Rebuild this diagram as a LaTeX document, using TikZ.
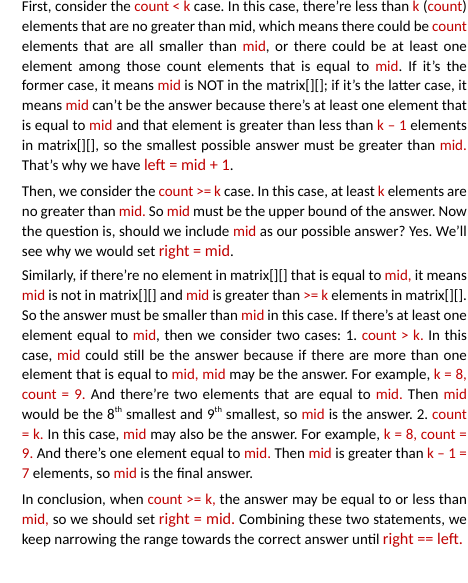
\documentclass[tikz,border=0pt]{standalone}
\usepackage{fontspec}
\setmainfont{Carlito}
\definecolor{wred}{RGB}{192,0,0}
\newcommand\R[1]{\textcolor{wred}{#1}}
\newcommand\RL[1]{{\fontsize{16.2}{19}\selectfont\textcolor{wred}{#1}}}
\newcommand\JL[1]{\hbox to 445pt{#1}}
\newcommand\sups[1]{\raisebox{0.9ex}{\fontsize{8.5}{9}\selectfont #1}}
\tikzset{txtline/.style={anchor=base west, inner sep=0pt, font=\fontsize{15}{19.8}\selectfont}}
\frenchspacing
\begin{document}
\begin{tikzpicture}[x=1pt,y=1pt]
\fill[white] (0,0) rectangle (468,583);
\useasboundingbox (0,0) rectangle (468,583);
% Paragraph 1
\node[txtline] (a1) at (21.7,583-11.8) {\JL{First, consider the \R{count < k} case. In this case, there’re less than \R{k} (\R{count})}};
\node[txtline] (a2) at (21.7,583-31.6) {\JL{elements that are no greater than mid, which means there could be \R{count}}};
\node[txtline] (a3) at (21.7,583-51.4) {\JL{elements that are all smaller than \R{mid}, or there could be at least one}};
\node[txtline] (a4) at (21.7,583-71.2) {\JL{element among those count elements that is equal to \R{mid}. If it’s the}};
\node[txtline] (a5) at (21.7,583-91.0) {\JL{former case, it means \R{mid} is NOT in the matrix[][]; if it’s the latter case, it}};
\node[txtline] (a6) at (21.7,583-110.8) {\JL{means \R{mid} can’t be the answer because there’s at least one element that}};
\node[txtline] (a7) at (21.7,583-130.6) {\JL{is equal to \R{mid} and that element is greater than less than \R{k – 1} elements}};
\node[txtline] (a8) at (21.7,583-150.4) {\JL{in matrix[][], so the smallest possible answer must be greater than \R{mid.}}};
\node[txtline] (a9) at (21.7,583-170.8) {That’s why we have \RL{left = mid + 1}.};
% Paragraph 2
\node[txtline] (b1) at (21.7,583-196.5) {\JL{Then, we consider the \R{count >= k} case. In this case, at least \R{k} elements are}};
\node[txtline] (b2) at (21.7,583-216.3) {\JL{no greater than \R{mid.} So \R{mid} must be the upper bound of the answer. Now}};
\node[txtline] (b3) at (21.7,583-236.1) {\JL{the question is, should we include \R{mid} as our possible answer? Yes. We’ll}};
\node[txtline] (b4) at (21.7,583-256.2) {see why we would set \RL{right = mid}.};
% Paragraph 3
\node[txtline] (c1) at (21.7,583-281.0) {\JL{Similarly, if there’re no element in matrix[][] that is equal to \R{mid,} it means}};
\node[txtline] (c2) at (21.7,583-300.8) {\JL{\R{mid} is not in matrix[][] and \R{mid} is greater than \R{>= k} elements in matrix[][].}};
\node[txtline] (c3) at (21.7,583-320.5) {\JL{So the answer must be smaller than \R{mid} in this case. If there’s at least one}};
\node[txtline] (c4) at (21.7,583-340.3) {\JL{element equal to \R{mid}, then we consider two cases: 1. \R{count > k.} In this}};
\node[txtline] (c5) at (21.7,583-360.1) {\JL{case, \R{mid} could still be the answer because if there are more than one}};
\node[txtline] (c6) at (21.7,583-379.9) {\JL{element that is equal to \R{mid, mid} may be the answer. For example, \R{k = 8,}}};
\node[txtline] (c7) at (21.7,583-399.6) {\JL{\R{count = 9.} And there’re two elements that are equal to \R{mid.} Then \R{mid}}};
\node[txtline] (c8) at (21.7,583-419.4) {\JL{would be the 8\sups{th} smallest and 9\sups{th} smallest, so \R{mid} is the answer. 2. \R{count}}};
\node[txtline] (c9) at (21.7,583-439.2) {\JL{\R{= k.} In this case, \R{mid} may also be the answer. For example, \R{k = 8, count =}}};
\node[txtline] (c10) at (21.7,583-459.0) {\JL{\R{9.} And there’s one element equal to \R{mid.} Then \R{mid} is greater than \R{k – 1 =}}};
\node[txtline] (c11) at (21.7,583-478.7) {\R{7} elements, so \R{mid} is the final answer.};
% Paragraph 4
\node[txtline] (d1) at (21.7,583-504.7) {\JL{In conclusion, when \R{count >= k,} the answer may be equal to or less than}};
\node[txtline] (d2) at (21.7,583-524.7) {\JL{\R{mid,} so we should set \RL{right = mid.} Combining these two statements, we}};
\node[txtline] (d3) at (21.7,583-544.7) {keep narrowing the range towards the correct answer until \RL{right == left.}};
\end{tikzpicture}
\end{document}
